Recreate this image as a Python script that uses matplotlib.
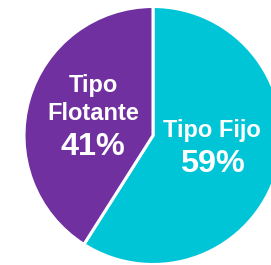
import matplotlib
matplotlib.use("Agg")
import matplotlib.pyplot as plt

# datos
labels = ["Tipo Fijo", "Tipo\nFlotante"]
values = [59, 41]
colors = ["#00C5D7", "#7030A0"]

W, H = 271, 265
fig = plt.figure(figsize=(W / 100, H / 100), dpi=100)
ax = fig.add_axes([0, 0, 1, 1])

cx, cy, r = 153, H - 135.5, 129
ax.pie(values, colors=colors, startangle=90, counterclock=False,
       center=(cx, cy), radius=r,
       wedgeprops=dict(edgecolor="white", linewidth=2.2))
ax.set_xlim(0, W); ax.set_ylim(0, H)
ax.set_aspect("equal", adjustable="box")
ax.axis("off")

font = dict(family=["Liberation Sans", "DejaVu Sans"], weight="bold",
            color="white", ha="center", va="baseline")

# etiquetas: (x, baselines de cada línea del nombre, baseline del %)
pos = [(212, [137], 172), (93, [92, 120], 155)]
for lab, v, (x, bls, pb) in zip(labels, values, pos):
    for line, b in zip(lab.split("\n"), bls):
        ax.text(x, H - b, line, fontsize=17, **font)
    ax.text(x, H - pb, f"{v}%", fontsize=23.3, **font)

fig.savefig("out.png", dpi=100)
